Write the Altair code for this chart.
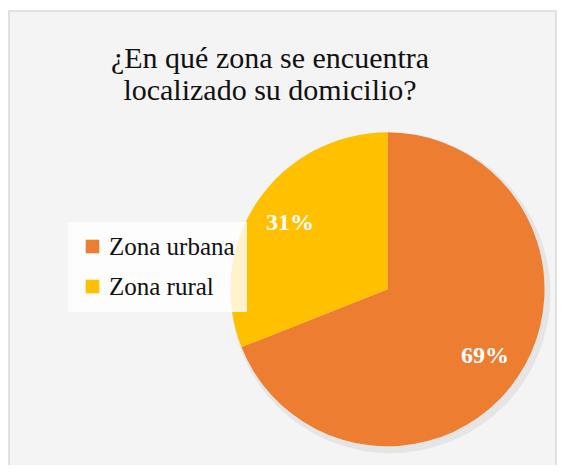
import altair as alt
import pandas as pd

categories = ["Zona urbana", "Zona rural"]
values = [69, 31]
labels = ["69%", "31%"]
colors = ["#ED7D31", "#FFC000"]
title_lines = ["¿En qué zona se encuentra", "localizado su domicilio?"]

df = pd.DataFrame({"category": categories, "value": values, "label": labels, "idx": [0, 1]})

W, H = 549, 457
CX, CY, R = 379.5, 281.3, 157
FONT = "Liberation Serif"

frame = alt.Chart(pd.DataFrame({"a": [0]})).mark_rect(
    fill="#f4f4f4", stroke="#d9d9d9", strokeWidth=1.5
).encode(x=alt.value(1), y=alt.value(3), x2=alt.value(548), y2=alt.value(470))

shadow = alt.Chart(pd.DataFrame({"a": [0]})).mark_arc(
    theta=0, theta2=6.2832, radius=R + 3, fill="#000000", opacity=0.06
).encode(x=alt.value(CX + 3), y=alt.value(CY + 4))

color = alt.Color(
    "category:N",
    scale=alt.Scale(domain=categories, range=colors),
    sort=categories,
    legend=alt.Legend(
        title=None, orient="none", legendX=60, legendY=214,
        fillColor="rgba(255,255,255,0.8)", padding=12,
        symbolType="square", symbolSize=185, symbolStrokeWidth=0,
        labelFont=FONT, labelFontSize=25, labelColor="#111111",
        rowPadding=14, labelOffset=4, labelLimit=300,
    ),
)

pie = alt.Chart(df).mark_arc(radius=R, stroke=None).encode(
    theta=alt.Theta("value:Q", stack=True),
    color=color,
    order=alt.Order("idx:Q"),
    x=alt.value(CX), y=alt.value(CY),
)

text = alt.Chart(df).mark_text(
    radius=118, font=FONT, fontSize=24, fontWeight="bold", color="white"
).encode(
    theta=alt.Theta("value:Q", stack=True),
    order=alt.Order("idx:Q"),
    text="label:N",
    x=alt.value(CX), y=alt.value(CY),
)

title_layers = []
for i, line in enumerate(title_lines):
    title_layers.append(
        alt.Chart(pd.DataFrame({"t": [line]})).mark_text(
            font=FONT, fontSize=30, color="#111111", baseline="alphabetic", align="center",
        ).encode(text="t:N", x=alt.value(262), y=alt.value(60 + 32 * i))
    )

chart = alt.layer(frame, shadow, pie, text, *title_layers).properties(
    width=W, height=H, padding=0, autosize=alt.AutoSizeParams(type="none"),
    background="white",
).configure_view(stroke=None)

chart.save("out.html", embed_options={"renderer": "svg", "actions": False})
